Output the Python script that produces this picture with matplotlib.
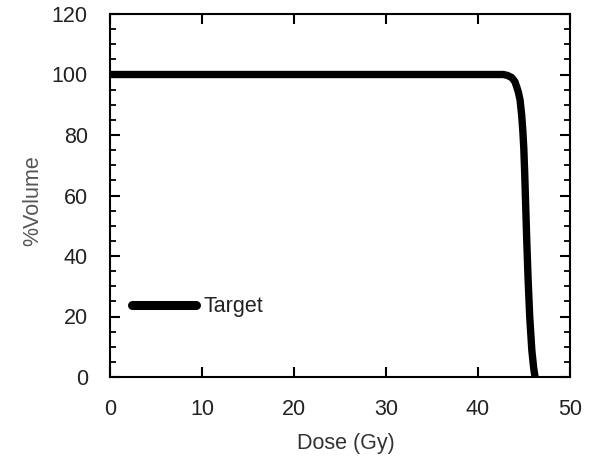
import matplotlib
matplotlib.use("Agg")
import matplotlib.pyplot as plt
from matplotlib.ticker import MultipleLocator

# Data
dose = [0.0, 20.0, 42.0, 42.75, 43.2, 43.66, 44.0, 44.2, 44.4, 44.57, 44.75,
        44.88, 44.98, 45.08, 45.18, 45.3, 45.45, 45.62, 45.85, 46.05, 46.2]
volume = [100.0, 100.0, 100.0, 100.0, 99.7, 99.0, 97.7, 96.0, 94.0, 91.6, 86.5,
          81.0, 75.5, 67.0, 57.0, 45.0, 32.0, 20.0, 8.9, 3.0, 0.0]
series_label = "Target"
x_ticks = [0, 10, 20, 30, 40, 50]
y_ticks = [0, 20, 40, 60, 80, 100, 120]

plt.rcParams['font.family'] = ['Liberation Sans', 'DejaVu Sans']

fig = plt.figure(figsize=(6.0, 4.58), dpi=100)
ax = fig.add_axes([110/600, 1-377/458, 460/600, 363/458])

ax.plot(dose, volume, color='black', lw=5.3, solid_capstyle='round',
        solid_joinstyle='round', label=series_label)

ax.set_xlim(0, 50)
ax.set_ylim(0, 120)
ax.set_xticks(x_ticks)
ax.set_yticks(y_ticks)
ax.yaxis.set_minor_locator(MultipleLocator(5))

for s in ax.spines.values():
    s.set_linewidth(1.5)
    s.set_color('black')

ax.tick_params(axis='both', which='major', direction='in', length=7.5, width=1.5,
               pad=16, labelsize=15.5, labelcolor='#222222')
ax.tick_params(axis='x', which='both', top=True)
ax.tick_params(axis='y', which='both', right=True)
ax.tick_params(axis='y', which='minor', direction='in', length=4.5, width=1.3)

ax.set_xlabel("Dose (Gy)", fontsize=15.5, color='#333333', va='center', ha='center')
ax.xaxis.set_label_coords((346-110)/460, (377-443)/363)
ax.set_ylabel("%Volume", fontsize=15.5, color='#555555', va='center', ha='center')
ax.yaxis.set_label_coords((33-110)/460, (377-201)/363)

leg = ax.legend(loc='center left', bbox_to_anchor=((131.7-110)/460, (377-306.7)/363),
                frameon=False, borderpad=0, borderaxespad=0, handlelength=3.0,
                handletextpad=0.35, fontsize=15.5)
for t in leg.get_texts():
    t.set_color('#222222')
for h in leg.get_lines():
    h.set_linewidth(6.5)

fig.savefig("out.png", dpi=100)
